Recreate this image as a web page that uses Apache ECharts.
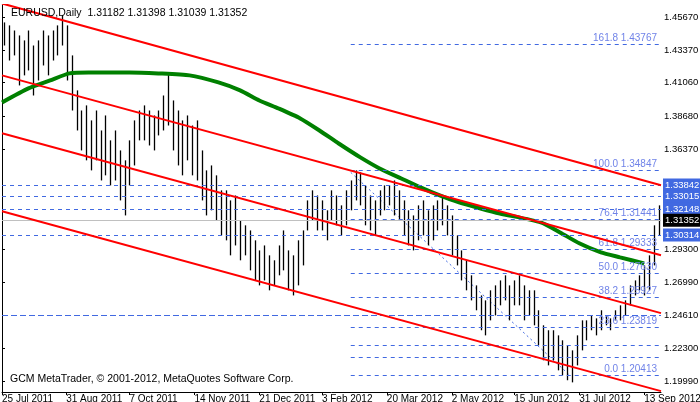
<!DOCTYPE html>
<html>
<head>
<meta charset="UTF-8">
<title>EURUSD Daily</title>
<script src="https://cdn.jsdelivr.net/npm/echarts@6/dist/echarts.min.js"></script>
<style>
* { margin: 0; padding: 0; }
body { background: #fff; }
#main { width: 700px; height: 402px; }
</style>
</head>
<body>
<div id="main"></div>
<script>
// bars every 2 trading days, x in trading days from 25 Jul 2011
var highs = [1.4532,1.4511,1.4475,1.4440,1.4405,1.4475,1.4369,1.4405,1.4475,1.4440,1.4475,1.4511,1.4581,1.4511,1.4299,
  1.4052,1.3910,1.3946,1.3840,1.3910,1.3769,1.3875,1.3699,1.3769,1.3628,1.3558,1.3699,1.3840,1.3910,1.3946,
  1.3910,1.3875,1.3910,1.4016,1.4179,1.3981,1.3910,1.3840,1.3875,1.3804,1.3840,1.3628,1.3487,1.3522,1.3452,
  1.3346,1.3346,1.3275,1.3310,1.3134,1.3099,1.3063,1.2993,1.2922,1.2957,1.2887,1.2852,1.2957,1.3063,1.2922,
  1.2887,1.2993,1.3063,1.3275,1.3346,1.3310,1.3275,1.3205,1.3346,1.3310,1.3240,1.3346,1.3416,1.3487,1.3473,
  1.3381,1.3310,1.3275,1.3346,1.3381,1.3381,1.3416,1.3346,1.3275,1.3205,1.3169,1.3240,1.3275,1.3205,1.3240,
  1.3275,1.3310,1.3240,1.3169,1.3028,1.2922,1.2852,1.2746,1.2675,1.2604,1.2569,1.2640,1.2675,1.2710,1.2746,
  1.2675,1.2710,1.2746,1.2675,1.2640,1.2640,1.2499,1.2393,1.2358,1.2358,1.2322,1.2287,1.2252,1.2216,1.2322,
  1.2428,1.2428,1.2463,1.2442,1.2499,1.2463,1.2442,1.2499,1.2534,1.2569,1.2675,1.2710,1.2746,1.2816,1.2887,
  1.3099,1.3240];
var lows = [1.4369,1.4263,1.4299,1.4087,1.4158,1.4193,1.4016,1.4122,1.4228,1.4158,1.4263,1.4299,1.4369,1.4122,1.3910,
  1.3769,1.3628,1.3558,1.3487,1.3558,1.3416,1.3452,1.3381,1.3416,1.3275,1.3169,1.3381,1.3522,1.3699,1.3699,
  1.3663,1.3628,1.3734,1.3769,1.3804,1.3628,1.3522,1.3452,1.3558,1.3452,1.3416,1.3275,1.3169,1.3205,1.3134,
  1.3028,1.2993,1.2887,1.2957,1.2852,1.2887,1.2781,1.2710,1.2675,1.2710,1.2640,1.2675,1.2746,1.2781,1.2640,
  1.2604,1.2675,1.2816,1.3063,1.3134,1.3063,1.3063,1.2993,1.3134,1.3099,1.3028,1.3099,1.3205,1.3275,1.3240,
  1.3099,1.3063,1.3028,1.3169,1.3205,1.3240,1.3169,1.3134,1.3028,1.2957,1.2922,1.2993,1.3028,1.2957,1.2993,
  1.3063,1.3099,1.3028,1.2887,1.2816,1.2710,1.2640,1.2569,1.2499,1.2358,1.2322,1.2428,1.2463,1.2534,1.2569,
  1.2428,1.2534,1.2534,1.2428,1.2463,1.2393,1.2252,1.2146,1.2110,1.2146,1.2075,1.2040,1.2005,1.1990,1.2110,
  1.2216,1.2287,1.2358,1.2322,1.2358,1.2393,1.2358,1.2428,1.2428,1.2463,1.2534,1.2604,1.2640,1.2604,1.2640,
  1.2816,1.3028];
var maPoints = [[0,1.3967],[11,1.4066],[20,1.4122],[28,1.4172],[36,1.4179],[53,1.4179],[65,1.4172],[78,1.4158],
  [90,1.4108],[99,1.4052],[107,1.3981],[115,1.3924],[124,1.3854],[132,1.3769],[140,1.3677],[149,1.3579],
  [157,1.3501],[166,1.3430],[174,1.3367],[182,1.3310],[190,1.3261],[199,1.3218],[207,1.3183],[224,1.3120],
  [232,1.3049],[240,1.2972],[249,1.2908],[257,1.2873],[267,1.2830]];
var channels = [[1.4666,1.3382],[1.4158,1.2888],[1.3749,1.2479],[1.3198,1.1928]];
var fibDiag = [[145,1.3473],[236,1.2041]];
var fibLevels = [['161.8',1.43767],['100.0',1.34847],['76.4',1.31441],['61.8',1.29333],['50.0',1.27630],
  ['38.2',1.25927],['23.6',1.23819],['0.0',1.20413]];
var fibExtra = [1.2252,1.2167];
var hLines = [1.33842,1.33015,1.32148,1.30314];
var plainLines = [1.2461];
var lastPrice = 1.31352;
var yTicks = [1.4567,1.4337,1.4106,1.3868,1.3637,1.2930,1.2699,1.2461,1.2230,1.1999];
var dateTicks = [0,26.7,53,80,107,133,160,187,213,240,267];
var dateLabels = ['25 Jul 2011','31 Aug 2011','7 Oct 2011','14 Nov 2011','21 Dec 2011','3 Feb 2012',
  '20 Mar 2012','2 May 2012','15 Jun 2012','31 Jul 2012','13 Sep 2012'];

var fibStart = 145, xMax = 274;
var barData = highs.map(function (h, i) { return [i * 2 + 1, h, lows[i]]; });
var font = 'Liberation Sans';
var blue = '#4169E1';

var markData = [];
fibLevels.forEach(function (f) {
  markData.push([{ coord: [fibStart, f[1]], label: { show: true, position: 'insideEndTop', distance: [4, 1],
      formatter: f[0] + ' ' + f[1].toFixed(5), color: '#7083E8', fontSize: 10, fontFamily: font } },
    { coord: [xMax, f[1]] }]);
});
fibExtra.forEach(function (v) {
  markData.push([{ coord: [fibStart, v] }, { coord: [xMax, v] }]);
});
hLines.forEach(function (v) {
  markData.push([{ coord: [0, v], label: { show: true, position: 'end', distance: 2, formatter: v.toFixed(5),
      color: '#fff', backgroundColor: blue, padding: [2, 2, 1, 2], fontSize: 9.5, fontFamily: font } },
    { coord: [xMax, v] }]);
});
plainLines.forEach(function (v) {
  markData.push([{ coord: [0, v], lineStyle: { type: [6, 3] } }, { coord: [xMax, v] }]);
});
markData.push([{ coord: [0, lastPrice], lineStyle: { color: '#C0C0C0', type: 'solid' },
    label: { show: true, position: 'end', distance: 2, formatter: lastPrice.toFixed(5), color: '#fff',
      backgroundColor: '#000', padding: [2, 2, 1, 2], fontSize: 9.5, fontFamily: font } },
  { coord: [xMax, lastPrice] }]);

var series = [{
  type: 'custom',
  data: barData,
  z: 3,
  renderItem: function (params, api) {
    var a = api.coord([api.value(0), api.value(1)]);
    var b = api.coord([api.value(0), api.value(2)]);
    return { type: 'line', shape: { x1: Math.round(a[0]) + 0.5, y1: a[1], x2: Math.round(b[0]) + 0.5, y2: b[1] },
      style: { stroke: '#000', lineWidth: 1.3 } };
  }
}, {
  type: 'line', data: maPoints, symbol: 'none', smooth: 0.2, z: 4,
  lineStyle: { color: '#008000', width: 4 }
}, {
  type: 'line', data: fibDiag, symbol: 'none', z: 2,
  lineStyle: { color: blue, width: 1, type: [2, 3] }
}, {
  type: 'line', data: [], z: 1,
  markLine: { symbol: 'none', silent: true, animation: false,
    lineStyle: { color: blue, width: 1, type: [4, 4] }, label: { show: false }, data: markData }
}];
channels.forEach(function (c) {
  series.push({ type: 'line', data: [[0, c[0]], [xMax, c[1]]], symbol: 'none', z: 5,
    lineStyle: { color: '#FF0000', width: 2 } });
});

var chart = echarts.init(document.getElementById('main'));
chart.setOption({
  animation: false,
  backgroundColor: '#fff',
  textStyle: { fontFamily: font },
  grid: { left: 2, right: 39, top: 5, bottom: 10, containLabel: false, outerBoundsMode: 'none' },
  title: [{ text: 'EURUSD,Daily  1.31182 1.31398 1.31039 1.31352', left: 6, top: 3,
      textStyle: { fontSize: 10.5, fontWeight: 'normal', color: '#000', fontFamily: font } },
    { text: 'GCM MetaTrader, © 2001-2012, MetaQuotes Software Corp.', left: 5, top: 369,
      textStyle: { fontSize: 10.5, fontWeight: 'normal', color: '#000', fontFamily: font } }],
  xAxis: {
    type: 'value', min: 0, max: xMax,
    axisLine: { lineStyle: { color: '#000' } },
    splitLine: { show: false },
    axisTick: { customValues: dateTicks, length: 3, lineStyle: { color: '#000' } },
    axisLabel: { customValues: dateTicks, color: '#000', fontSize: 10, margin: 2, align: 'left',
      formatter: function (v) { return dateLabels[dateTicks.indexOf(v)]; } }
  },
  yAxis: {
    type: 'value', position: 'right', min: 1.1922, max: 1.4655, scale: true,
    axisLine: { show: true, lineStyle: { color: '#000' } },
    splitLine: { show: false },
    axisTick: { show: true, customValues: yTicks, length: 3, lineStyle: { color: '#000' } },
    axisLabel: { customValues: yTicks, color: '#000', fontSize: 9.5, margin: 3,
      formatter: function (v) { return v.toFixed(5); } }
  },
  series: series
});
</script>
</body>
</html>
